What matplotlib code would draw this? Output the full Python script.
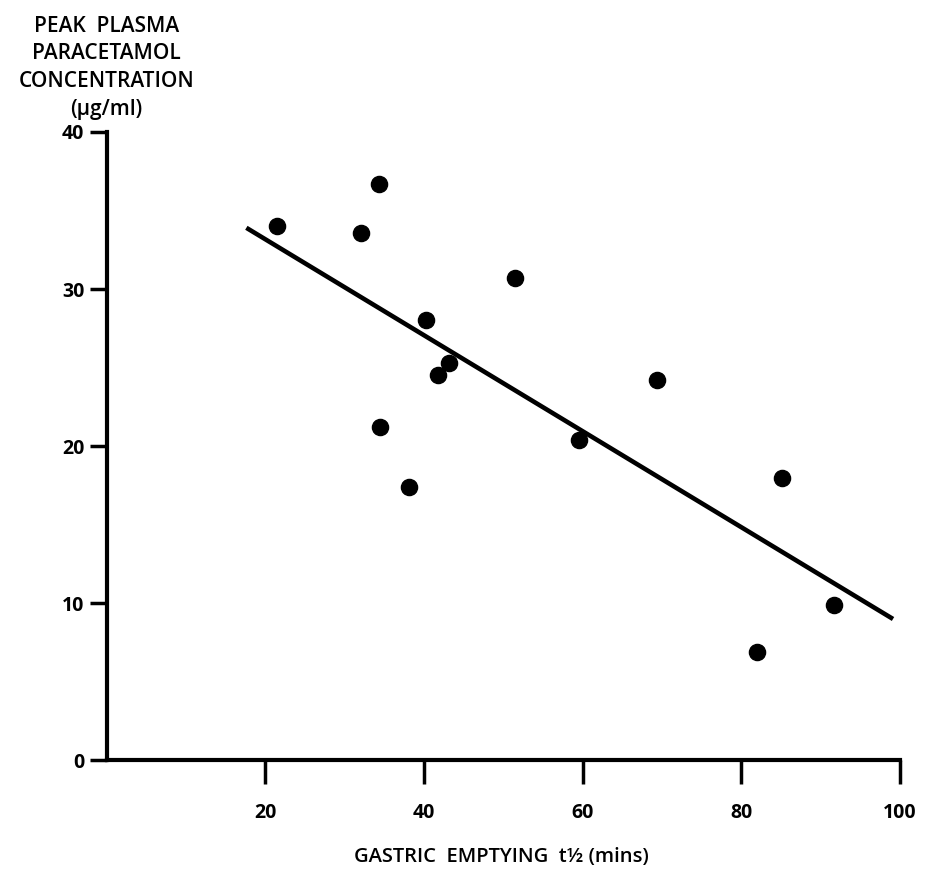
import matplotlib
matplotlib.use("Agg")
import matplotlib.pyplot as plt

# Data
gastric_t_half = [21.5, 32.0, 34.3, 34.5, 38.1, 40.2, 41.8, 43.2, 51.4, 59.5, 69.3, 82.0, 85.1, 91.7]
peak_conc = [34.0, 33.6, 36.7, 21.2, 17.4, 28.0, 24.5, 25.3, 30.7, 20.4, 24.2, 6.9, 18.0, 9.9]
fit_x = [17.6, 99.1]
fit_y = [33.9, 9.0]
x_ticks = [20, 40, 60, 80, 100]
y_ticks = [0, 10, 20, 30, 40]

plt.rcParams['font.family'] = ['Open Sans', 'DejaVu Sans']

fig = plt.figure(figsize=(9.28, 8.74), dpi=100)
ax = fig.add_axes([0.115, 0.130, 0.855, 0.719])

ax.plot(fit_x, fit_y, color='black', lw=3.3, solid_capstyle='butt')
ax.scatter(gastric_t_half, peak_conc, s=135, color='black', zorder=3)

ax.set_xlim(0, 100)
ax.set_ylim(0, 40)
ax.set_xticks(x_ticks)
ax.set_yticks(y_ticks)
ax.set_xticklabels([str(v) for v in x_ticks], fontsize=14, fontweight='bold')
ax.set_yticklabels([str(v) for v in y_ticks], fontsize=14, fontweight='bold')
for s in ['top', 'right']:
    ax.spines[s].set_visible(False)
for s in ['left', 'bottom']:
    ax.spines[s].set_linewidth(3)
ax.tick_params(axis='x', direction='out', length=17, width=2.5, pad=14)
ax.tick_params(axis='y', direction='out', length=12, width=2.5, pad=4)

fig.text(0.115, 0.982, "PEAK  PLASMA\nPARACETAMOL\nCONCENTRATION\n(\u00b5g/ml)",
         ha='center', va='top', fontsize=15, fontweight='semibold', linespacing=1.42)
fig.text(0.54, 0.019, "GASTRIC  EMPTYING  t\u00bd (mins)",
         ha='center', va='center', fontsize=14.5, fontweight='semibold')

fig.savefig("out.png", dpi=100)
